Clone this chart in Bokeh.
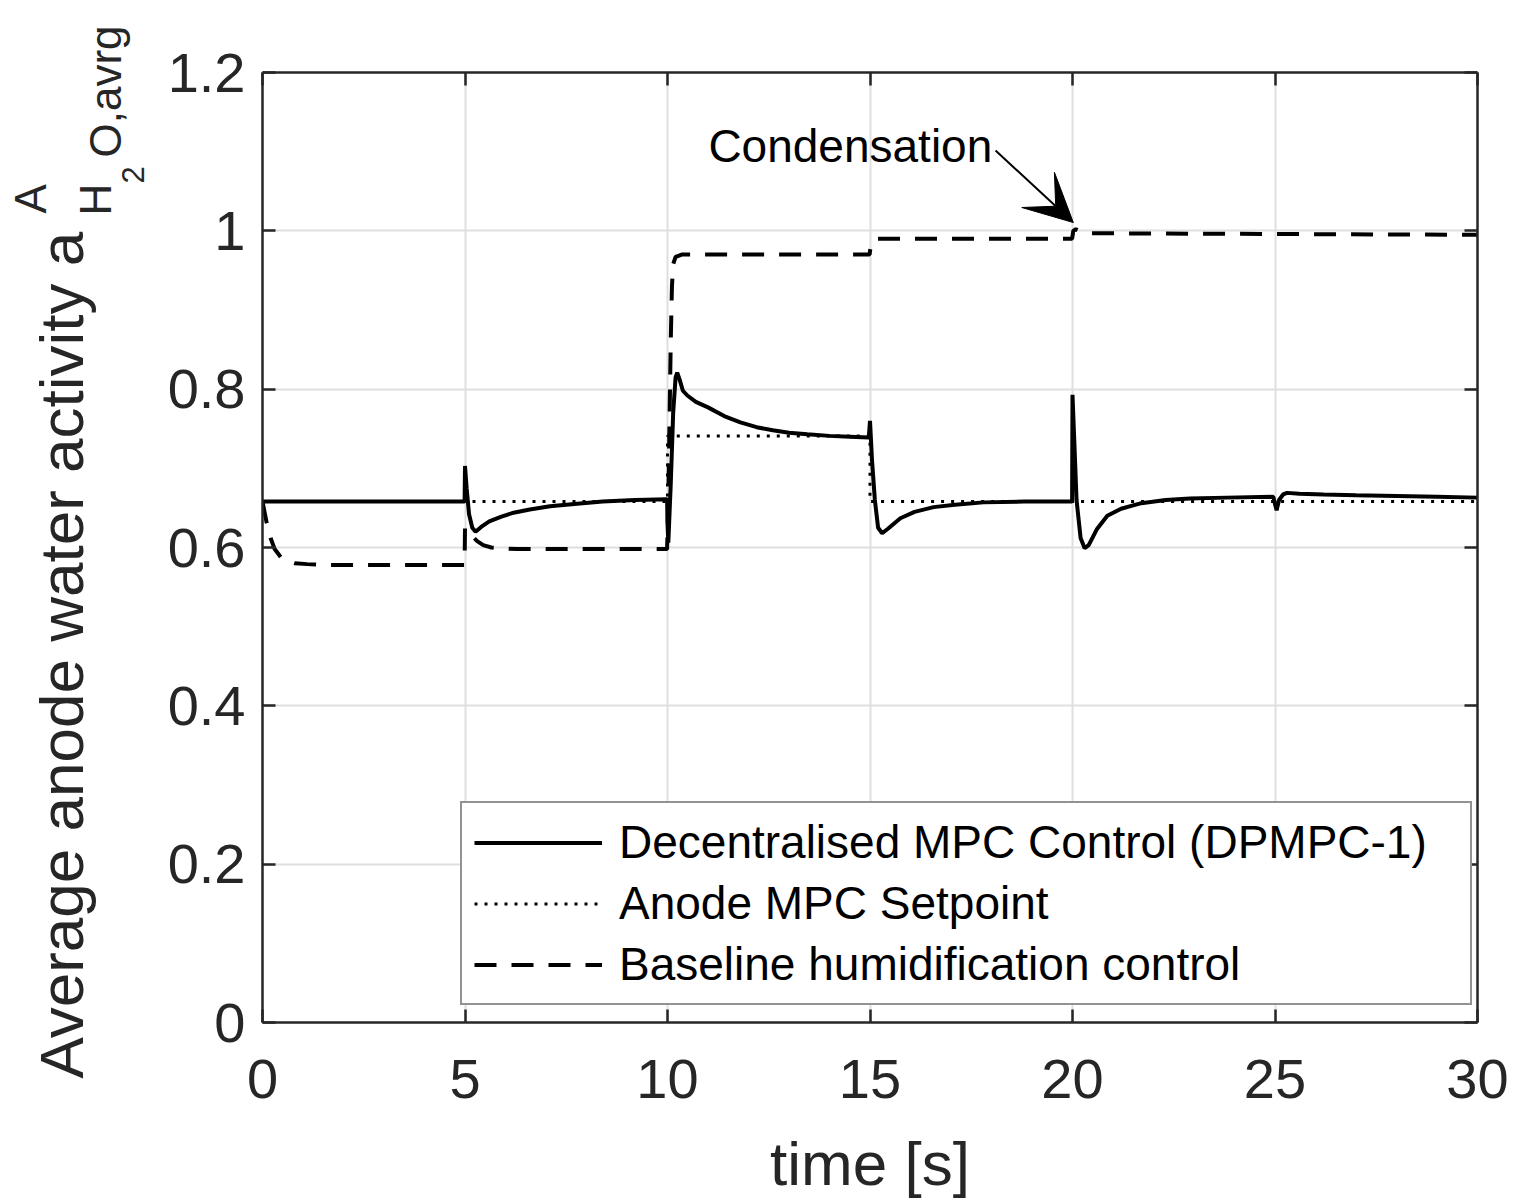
import math
from bokeh.plotting import figure
from bokeh.layouts import row
from bokeh.models import (Range1d, LinearAxis, FixedTicker, NumeralTickFormatter, CustomJSTickFormatter,
                          Label, Arrow, VeeHead, Legend, LegendItem)
from bokeh.embed import file_html
from bokeh.resources import INLINE

# ---------------- data ----------------
time_mpc = [0, 4.99, 5.0, 5.04, 5.1, 5.18, 5.26, 5.4, 5.6, 5.9, 6.2, 6.6, 7.1, 7.7, 8.4, 9.2, 9.99,
            10.0, 10.02, 10.08, 10.14, 10.2, 10.24, 10.3, 10.38, 10.49, 10.7, 11.0, 11.4, 11.8, 12.2,
            12.6, 13.0, 13.45, 14.0, 14.5, 14.97,
            15.0, 15.05, 15.12, 15.2, 15.3, 15.45, 15.75, 16.1, 16.57, 17.1, 17.8, 18.8, 19.99,
            20.0, 20.04, 20.1, 20.2, 20.3, 20.4, 20.6, 20.86, 21.2, 21.7, 22.3, 22.9, 23.8, 24.96,
            25.0, 25.04, 25.1, 25.2, 25.3, 25.6, 26.2, 27.0, 28.0, 29.0, 30.0]
aw_mpc = [0.658, 0.658, 0.703, 0.675, 0.642, 0.625, 0.620, 0.626, 0.633, 0.639, 0.644, 0.648, 0.652, 0.655, 0.658, 0.660, 0.661,
          0.630, 0.606, 0.680, 0.770, 0.815, 0.821, 0.812, 0.798, 0.792, 0.784, 0.777, 0.766, 0.758, 0.752,
          0.748, 0.745, 0.743, 0.741, 0.740, 0.739,
          0.760, 0.710, 0.660, 0.625, 0.618, 0.624, 0.637, 0.645, 0.651, 0.654, 0.657, 0.658, 0.658,
          0.793, 0.740, 0.660, 0.612, 0.599, 0.603, 0.623, 0.640, 0.649, 0.656, 0.660, 0.662, 0.663, 0.664,
          0.655, 0.647, 0.660, 0.667, 0.669, 0.668, 0.667, 0.666, 0.665, 0.664, 0.663]

time_sp = [0, 10, 10, 15, 15, 30]
aw_sp = [0.658, 0.658, 0.741, 0.741, 0.658, 0.658]

time_base = [0, 0.05, 0.1, 0.2, 0.3, 0.45, 0.6, 0.8, 1.1, 1.5, 4.99,
             5.0, 5.08, 5.18, 5.3, 5.45, 5.65, 5.9, 6.3, 9.99,
             10.02, 10.05, 10.08, 10.11, 10.14, 10.2, 10.35, 14.99,
             15.02, 15.06, 15.15, 19.99, 20.02, 20.08, 20.2, 20.4, 25.0, 30.0]
aw_base = [0.658, 0.645, 0.632, 0.612, 0.598, 0.588, 0.583, 0.580, 0.579, 0.578, 0.578,
           0.625, 0.621, 0.614, 0.608, 0.603, 0.600, 0.599, 0.598, 0.598,
           0.660, 0.760, 0.860, 0.930, 0.958, 0.967, 0.970, 0.970,
           0.982, 0.988, 0.990, 0.990, 1.000, 1.002, 0.999, 0.997, 0.996, 0.995]

x_ticks = [0, 5, 10, 15, 20, 25, 30]
y_ticks = [0, 0.2, 0.4, 0.6, 0.8, 1.0, 1.2]

legend_labels = ["Decentralised MPC Control (DPMPC-1)", "Anode MPC Setpoint",
                 "Baseline humidification control"]
x_label = "time [s]"
y_label_main = "Average anode water activity a"
annot_text = "Condensation"
annot_point = (20.02, 1.0105)

FONT = "Liberation Sans"
AX = "#262626"
LAB_W = 150
H = 1202

# ---------------- main figure ----------------
p = figure(frame_width=1215, frame_height=950, output_backend="svg", toolbar_location=None,
           x_range=Range1d(0, 30), y_range=Range1d(0, 1.2),
           min_border_left=262 - LAB_W, min_border_top=72, min_border_right=36, min_border_bottom=180,
           background_fill_color="white", border_fill_color="white")
p.outline_line_color = None
p.frame_align = False


def style_axis(ax, show_labels=True):
    ax.axis_line_color = AX
    ax.axis_line_width = 2.5
    ax.major_tick_line_color = AX
    ax.major_tick_line_width = 2.5
    ax.major_tick_in = 13
    ax.major_tick_out = 0
    ax.minor_tick_line_color = None
    ax.major_label_text_font = FONT
    ax.major_label_text_color = AX
    ax.major_label_text_font_size = "56px"
    if not show_labels:
        ax.formatter = CustomJSTickFormatter(code="return ''")
        ax.major_label_standoff = 0


xa = p.xaxis[0]
ya = p.yaxis[0]
xa.ticker = FixedTicker(ticks=x_ticks)
ya.ticker = FixedTicker(ticks=y_ticks)
ya.formatter = NumeralTickFormatter(format="0.[0]")
style_axis(xa)
style_axis(ya)
xa.major_label_standoff = 37
ya.major_label_standoff = 17
xa.axis_label = x_label
xa.axis_label_text_font = FONT
xa.axis_label_text_font_size = "62px"
xa.axis_label_text_font_style = "normal"
xa.axis_label_text_color = AX
xa.axis_label_standoff = 28

top = LinearAxis(ticker=FixedTicker(ticks=x_ticks))
right = LinearAxis(ticker=FixedTicker(ticks=y_ticks))
style_axis(top, False)
style_axis(right, False)
p.add_layout(top, "above")
p.add_layout(right, "right")

p.xgrid.ticker = FixedTicker(ticks=x_ticks)
p.ygrid.ticker = FixedTicker(ticks=y_ticks)
for g in (p.xgrid[0], p.ygrid[0]):
    g.grid_line_color = "#dfdfdf"
    g.grid_line_width = 2

# lines
r_mpc = p.line(time_mpc, aw_mpc, line_color="black", line_width=4)
r_sp = p.line(time_sp, aw_sp, line_color="black", line_width=3, line_dash="3 7")
r_base = p.line(time_base, aw_base, line_color="black", line_width=4, line_dash="22 15")

legend = Legend(items=[LegendItem(label=legend_labels[0], renderers=[r_mpc]),
                       LegendItem(label=legend_labels[1], renderers=[r_sp]),
                       LegendItem(label=legend_labels[2], renderers=[r_base])],
                location=(198, 17))
legend.label_text_font = FONT
legend.label_text_font_size = "46px"
legend.label_text_color = "black"
legend.glyph_width = 128
legend.glyph_height = 51
legend.label_standoff = 17
legend.label_width = 839
legend.spacing = 7
legend.padding = 12
legend.margin = 0
legend.border_line_color = AX
legend.border_line_width = 2
legend.background_fill_color = "white"
legend.background_fill_alpha = 1
p.add_layout(legend)

# annotation (bottom of text box ~10px below the baseline)
p.add_layout(Label(x=11.01, y=1.074, text=annot_text, text_font=FONT, text_font_size="46px",
                   text_color="black", text_baseline="bottom"))
p.add_layout(Arrow(end=VeeHead(size=48, fill_color="black", line_color="black"),
                   x_start=18.1, y_start=1.1015, x_end=annot_point[0], y_end=annot_point[1],
                   line_width=2, line_color="black"))

# ---------------- y-axis label strip (rotated text with super/subscripts) ----------------
p_lab = figure(width=LAB_W, height=H, output_backend="svg", toolbar_location=None,
               x_range=Range1d(0, LAB_W), y_range=Range1d(H, 0),
               x_axis_location=None, y_axis_location=None,
               min_border_left=0, min_border_right=0, min_border_top=0, min_border_bottom=0,
               background_fill_color="white", border_fill_color="white")
p_lab.outline_line_color = None
p_lab.grid.visible = False
p_lab.frame_align = False

# (text, baseline x, start y, font px) -- anchor = bottom edge of rotated text box
pieces = [
    (y_label_main, 82, 1078, 62),
    ("A", 45, 213, 44),
    ("H", 110, 215, 44),
    ("2", 137, 183, 31),
    ("O,avrg", 120, 157, 44),
]
for txt, bx, sy, fs in pieces:
    p_lab.add_layout(Label(x=bx + 0.212 * fs, y=sy, text=txt, angle=math.pi / 2, text_font=FONT,
                           text_font_size=f"{fs}px", text_color=AX, text_align="left",
                           text_baseline="bottom"))

layout = row(p_lab, p)
open("out.html", "w").write(file_html(layout, INLINE))
